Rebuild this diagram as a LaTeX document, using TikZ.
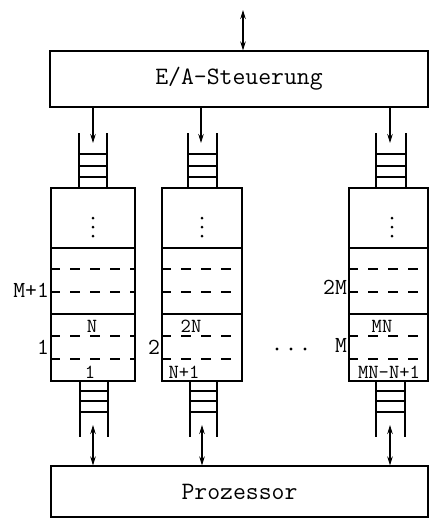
\documentclass[tikz,border=0pt]{standalone}
\usepackage{fontspec}
\usetikzlibrary{arrows.meta}
\begin{document}
\begin{tikzpicture}[x=1pt,y=-1pt, line width=1.1pt,
  box/.style={draw, inner sep=0pt},
  tip/.style={-{Stealth[length=9pt,width=5.5pt]}},
  bitip/.style={{Stealth[length=9pt,width=5.5pt]}-{Stealth[length=9pt,width=5.5pt]}},
  dashrow/.style={dash pattern=on 10pt off 10pt},
  bigtxt/.style={font=\ttfamily\fontsize{25}{25}\selectfont},
  lab/.style={font=\ttfamily\fontsize{23}{23}\selectfont, inner sep=1pt},
  ilab/.style={font=\ttfamily\fontsize{20}{20}\selectfont, inner sep=0pt}]
\useasboundingbox (0,0) rectangle (429,520);

% main boxes
\node[box, bigtxt, minimum width=378pt, minimum height=56pt] (ea) at (239,79) {E/A-Steuerung};
\node[box, bigtxt, minimum width=377pt, minimum height=51pt] (proc) at (239.5,491.5) {Prozessor};

% memory modules
\node[box, minimum width=84pt, minimum height=193pt] (m1) at (93,284.5) {};
\node[box, minimum width=80pt, minimum height=193pt] (m2) at (202,284.5) {};
\node[box, minimum width=79pt, minimum height=193pt] (m3) at (388.5,284.5) {};

\foreach \m in {m1,m2,m3}{
  \draw (\m.west |- 0,248) -- (\m.east |- 0,248);
  \draw (\m.west |- 0,314) -- (\m.east |- 0,314);
  \draw[dashrow] (\m.west |- 0,269) -- (\m.east |- 0,269);
  \draw[dashrow] (\m.west |- 0,292) -- (\m.east |- 0,292);
  \draw[dashrow] (\m.west |- 0,336) -- (\m.east |- 0,336);
  \draw[dashrow] (\m.west |- 0,359) -- (\m.east |- 0,359);
}

% vertical dots
\foreach \x in {93,202,392}{
  \foreach \y in {218,227,236}{
    \fill (\x,\y) circle (1.5pt);
  }
}

% queues (top: open above, bottom: open below)
\foreach \a/\b in {79/107,188/217,376/406}{
  \draw (\a,133) -- (\a,188) (\b,133) -- (\b,188);
  \foreach \y in {154,166,177}{\draw (\a,\y) -- (\b,\y);}
}
\foreach \a/\b in {80/108,190/217,376/405}{
  \draw (\a,381) -- (\a,437) (\b,381) -- (\b,437);
  \foreach \y in {391,401,412}{\draw (\a,\y) -- (\b,\y);}
}

% queue entry / exit coordinates
\coordinate (q1) at (93,143);
\coordinate (q2) at (201,143);
\coordinate (q3) at (390,143);
\coordinate (p1) at (93,425);
\coordinate (p2) at (202,425);
\coordinate (p3) at (390,425);
\coordinate (ext) at (243,10);

\draw[bitip] (ext) -- (ea.north -| ext);
\foreach \qq in {q1,q2,q3}{ \draw[tip] (ea.south -| \qq) -- (\qq); }
\foreach \pp in {p1,p2,p3}{ \draw[bitip] (\pp) -- (proc.north -| \pp); }

% side labels
\node[lab, anchor=east] (lM1) at (m1.west |- 0,290) {M+1};
\node[lab, anchor=east] (l1) at (m1.west |- 0,347) {1};
\node[lab, anchor=east] (l2) at (m2.west |- 0,347) {2};
\node[lab, anchor=east] (l2M) at (m3.west |- 0,287) {2M};
\node[lab, anchor=east] (lM) at (m3.west |- 0,345) {M};

% horizontal ellipsis
\foreach \x in {277,291,305}{ \fill (\x,349) circle (1.7pt); }

% inner labels
\node[ilab] (iN) at (92,326) {N};
\node[ilab] (i2N) at (191,326) {2N};
\node[ilab] (iMN) at (382,326) {MN};
\node[ilab] (i1) at (90,372) {1};
\node[ilab] (iN1) at (184,372) {N+1};
\node[ilab] (iMN1) at (389,372) {MN-N+1};
\end{tikzpicture}
\end{document}
